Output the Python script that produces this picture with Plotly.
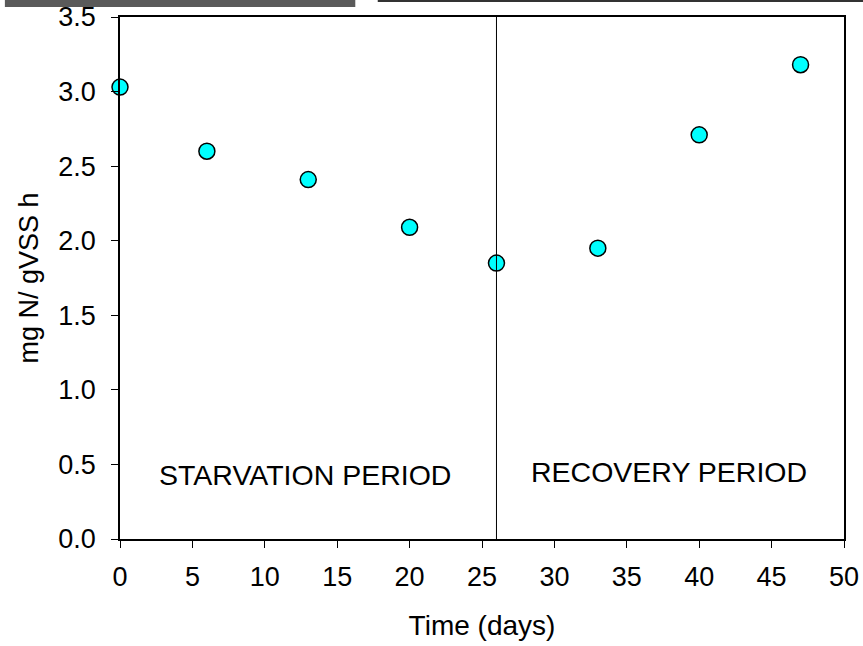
import plotly.graph_objects as go

days = [0, 6, 13, 20, 26, 33, 40, 47]
rate = [3.03, 2.60, 2.41, 2.09, 1.85, 1.95, 2.71, 3.18]
x_ticks = [0, 5, 10, 15, 20, 25, 30, 35, 40, 45, 50]
y_ticks = [0.0, 0.5, 1.0, 1.5, 2.0, 2.5, 3.0, 3.5]
y_ticklabels = ["0.0", "0.5", "1.0", "1.5", "2.0", "2.5", "3.0", "3.5"]
divider_day = 26
period_labels = ["STARVATION PERIOD", "RECOVERY PERIOD"]
period_label_x = [12.75, 37.9]
period_label_y = [0.43, 0.45]

FONT = "Liberation Sans, Arial, sans-serif"

fig = go.Figure()
fig.add_trace(go.Scatter(
    x=days, y=rate, mode="markers",
    marker=dict(size=16, color="#00FFFF", line=dict(color="black", width=1.5)),
    showlegend=False, cliponaxis=False,
))

fig.add_shape(type="line", x0=divider_day, x1=divider_day, y0=0, y1=3.5,
              xref="x", yref="y", line=dict(color="black", width=1))

for t, xx, yy in zip(period_labels, period_label_x, period_label_y):
    fig.add_annotation(x=xx, y=yy, text=t, showarrow=False,
                       font=dict(family=FONT, size=28.5, color="black"))

# screenshot strip artifacts at the top
fig.add_shape(type="rect", xref="paper", yref="paper", x0=-0.159, x1=0.325,
              y0=1.0 + 10/522, y1=1.0 + 17/522, fillcolor="#5a5a5a", line=dict(width=0), layer="below")
fig.add_shape(type="rect", xref="paper", yref="paper", x0=0.356, x1=1.03,
              y0=1.0 + 15/522, y1=1.0 + 17/522, fillcolor="#333333", line=dict(width=0), layer="below")

fig.update_layout(
    width=863, height=646,
    margin=dict(l=120, r=19, t=17, b=107),
    paper_bgcolor="white", plot_bgcolor="white",
    font=dict(family=FONT, size=27, color="black"),
    xaxis=dict(
        range=[0, 50], tickvals=x_ticks, ticks="outside", ticklen=7, tickwidth=1,
        tickcolor="black", showline=True, linecolor="black", linewidth=1.5, mirror=True,
        showgrid=False, zeroline=False, tickfont=dict(size=27), automargin=False,
        ticklabelstandoff=6,
        title=dict(text="Time (days)", font=dict(size=28), standoff=24),
    ),
    yaxis=dict(
        range=[0, 3.5], tickvals=y_ticks, ticktext=y_ticklabels, ticks="outside", ticklen=7,
        tickwidth=1, tickcolor="black", showline=True, linecolor="black", linewidth=1.5,
        mirror=True, showgrid=False, zeroline=False, tickfont=dict(size=27), automargin=False,
        ticklabelstandoff=10,
        title=dict(text="mg N/ gVSS h", font=dict(size=27), standoff=12),
    ),
)

fig.write_html("out.html")
